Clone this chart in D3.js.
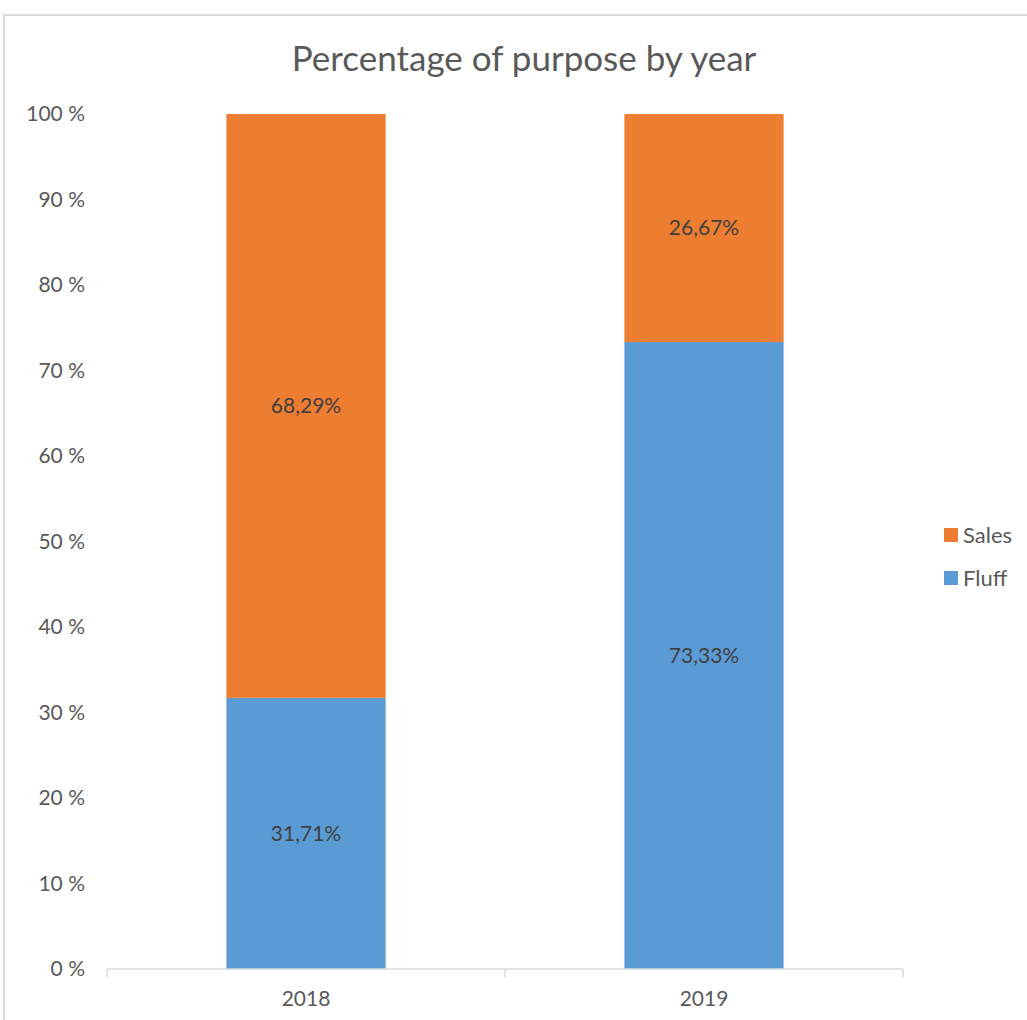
<!DOCTYPE html>
<html>
<head>
<meta charset="utf-8">
<script src="https://cdn.jsdelivr.net/npm/d3@7"></script>
<style>
  html, body { margin: 0; padding: 0; background: #fff; }
  svg { display: block; }
  text { font-family: "Lato", "Open Sans", sans-serif; }
</style>
</head>
<body>
<svg id="chart" width="1027" height="1020"></svg>
<script>
// Share of each purpose per year (percent)
const years = ["2018", "2019"];
const fluff = [31.71, 73.33];
const sales = [68.29, 26.67];
const seriesNames = ["Fluff", "Sales"];
const seriesColors = ["#5B9BD5", "#ED7D31"];
const yTicks = [0, 10, 20, 30, 40, 50, 60, 70, 80, 90, 100];
const title = "Percentage of purpose by year";

const svg = d3.select("#chart");

// chart frame
svg.append("rect")
  .attr("x", 4).attr("y", 15)
  .attr("width", 1100).attr("height", 1100)
  .attr("fill", "#fff")
  .attr("stroke", "#d9d9d9").attr("stroke-width", 2);

const plot = { left: 107, right: 903, top: 114, bottom: 969 };

const x = d3.scaleBand()
  .domain(years)
  .range([plot.left, plot.right])
  .paddingInner(0.6).paddingOuter(0.3);

const y = d3.scaleLinear()
  .domain([0, 100])
  .range([plot.bottom, plot.top]);

// title
svg.append("text")
  .attr("x", 524).attr("y", 71)
  .attr("text-anchor", "middle")
  .attr("font-size", 35)
  .attr("fill", "#595959")
  .text(title);

// stacked data
const rows = years.map((yr, i) => ({ year: yr, Fluff: fluff[i], Sales: sales[i] }));
const stack = d3.stack().keys(seriesNames)(rows);

const groups = svg.append("g").selectAll("g")
  .data(stack).join("g")
  .attr("fill", (d, i) => seriesColors[i]);

groups.selectAll("rect")
  .data(d => d.map(v => ({ v, key: d.key })))
  .join("rect")
  .attr("x", d => x(d.v.data.year))
  .attr("width", x.bandwidth())
  .attr("y", d => y(d.v[1]))
  .attr("height", d => y(d.v[0]) - y(d.v[1]));

// value labels
const fmt = v => v.toFixed(2).replace(".", ",") + "%";
groups.selectAll("text")
  .data(d => d.map(v => ({ v, key: d.key })))
  .join("text")
  .attr("x", d => x(d.v.data.year) + x.bandwidth() / 2)
  .attr("y", d => (y(d.v[0]) + y(d.v[1])) / 2)
  .attr("dy", "0.35em")
  .attr("text-anchor", "middle")
  .attr("font-size", 21)
  .attr("fill", "#404040")
  .text(d => fmt(d.v[1] - d.v[0]));

// y axis labels
const yAxis = d3.axisLeft(y)
  .tickValues(yTicks)
  .tickSize(0)
  .tickPadding(22)
  .tickFormat(d => d + " %");
const gy = svg.append("g")
  .attr("transform", `translate(${plot.left},0)`)
  .call(yAxis);
gy.select(".domain").remove();
gy.selectAll("text")
  .attr("font-family", "Lato, 'Open Sans', sans-serif")
  .attr("font-size", 21)
  .attr("fill", "#595959");

// x axis
const xAxis = d3.axisBottom(x).tickSize(0).tickPadding(22);
const gx = svg.append("g")
  .attr("transform", `translate(0,${plot.bottom})`)
  .call(xAxis);
gx.select(".domain").attr("stroke", "#d9d9d9").attr("stroke-width", 1.5)
  .attr("d", `M${plot.left},0H${plot.right}`);
gx.selectAll("text")
  .attr("font-family", "Lato, 'Open Sans', sans-serif")
  .attr("font-size", 21)
  .attr("fill", "#595959");

// category separators on x axis
const bounds = [plot.left, (x("2018") + x.bandwidth() + x("2019")) / 2, plot.right];
svg.append("g").selectAll("line")
  .data(bounds).join("line")
  .attr("x1", d => d).attr("x2", d => d)
  .attr("y1", plot.bottom).attr("y2", plot.bottom + 8)
  .attr("stroke", "#d9d9d9").attr("stroke-width", 1.5);

// legend (Sales on top)
const legendItems = [
  { name: seriesNames[1], color: seriesColors[1] },
  { name: seriesNames[0], color: seriesColors[0] }
];
const lg = svg.append("g").selectAll("g")
  .data(legendItems).join("g")
  .attr("transform", (d, i) => `translate(944,${535 + i * 43})`);
lg.append("rect")
  .attr("x", 0).attr("y", -7)
  .attr("width", 14).attr("height", 14)
  .attr("fill", d => d.color);
lg.append("text")
  .attr("x", 19).attr("dy", "0.35em")
  .attr("font-size", 22)
  .attr("fill", "#595959")
  .text(d => d.name);
</script>
</body>
</html>
